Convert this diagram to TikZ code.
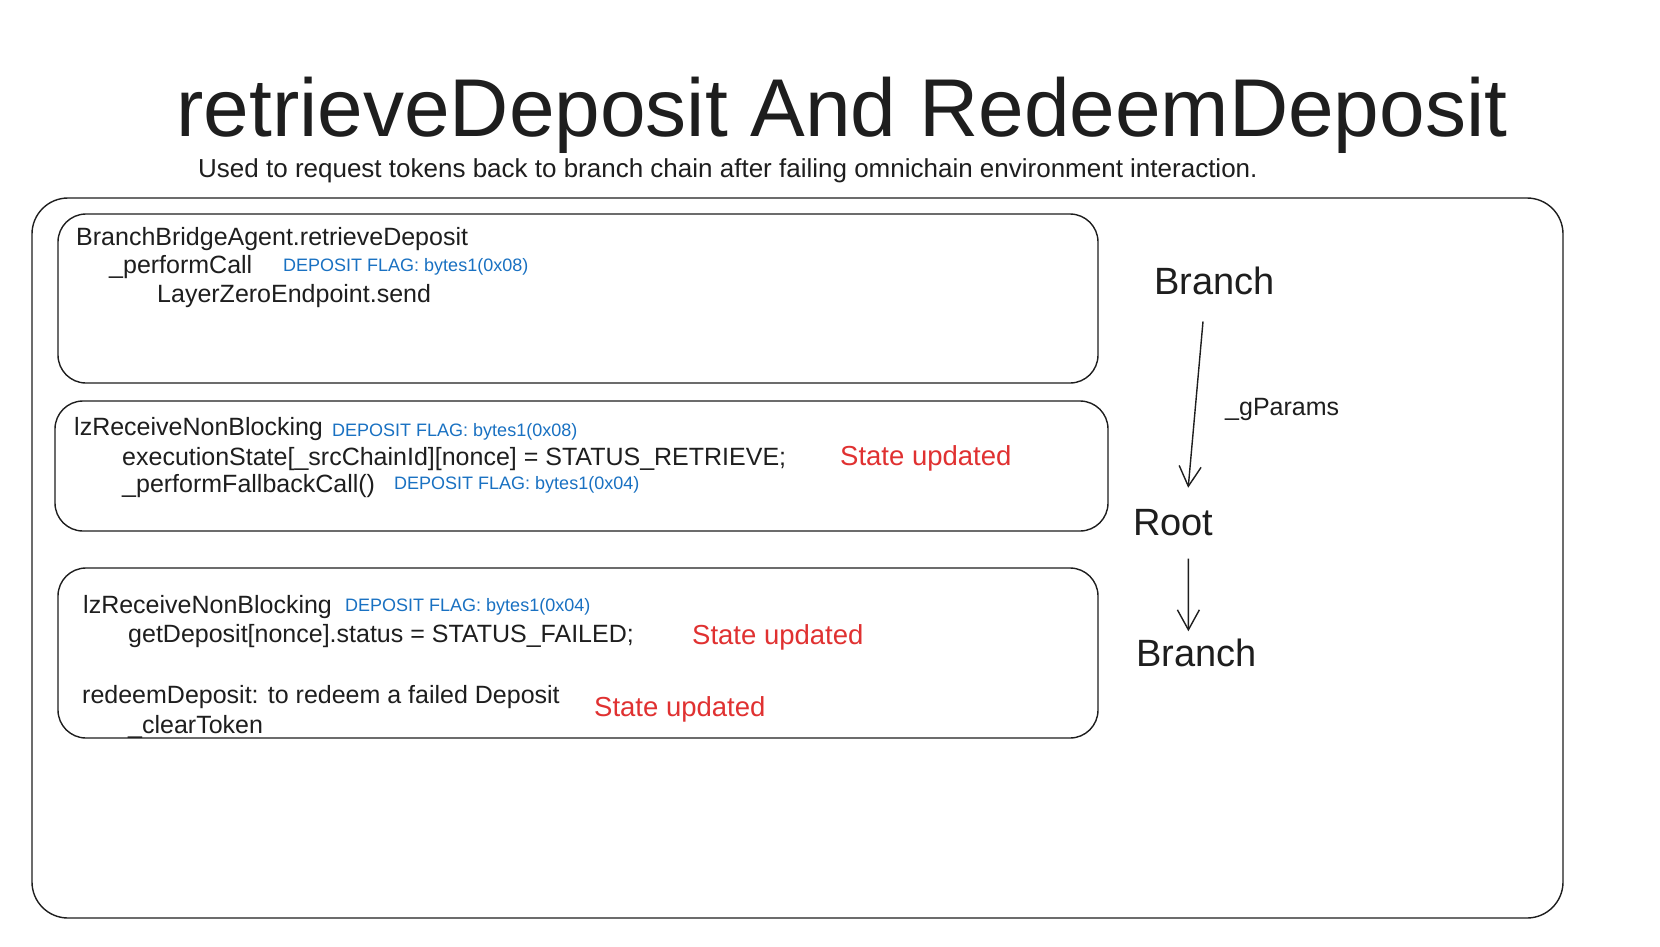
\documentclass[tikz,border=0pt]{standalone}
\usepackage{fontspec}
\setmainfont{Liberation Sans}
\usepackage{tikz}
\usetikzlibrary{arrows.meta}
\definecolor{ink}{HTML}{1E1E1E}
\definecolor{flagblue}{HTML}{1971C2}
\definecolor{statered}{HTML}{E03131}

\begin{document}
\begin{tikzpicture}[x=1pt,y=-1pt,
    txt/.style={anchor=base west,inner sep=0pt,text=ink,font=\fontsize{25}{30}\selectfont},
    flag/.style={txt,text=flagblue,font=\fontsize{18}{22}\selectfont},
    upd/.style={txt,text=statered,font=\fontsize{27.5}{33}\selectfont},
    chainlbl/.style={txt,font=\fontsize{38}{46}\selectfont},
    panel/.style={draw=ink,line width=1.4pt,rounded corners=28pt},
    arr/.style={draw=ink,line width=1.4pt,-{Straight Barb[length=20pt,width=22pt]}}]
    \fill[white] (0,0) rectangle (1660,946);
    \useasboundingbox (0,0) rectangle (1660,946);
    \node[txt,anchor=base,font=\fontsize{82}{98}\selectfont] (title) at (842,136) {retrieveDeposit And RedeemDeposit};
    \node[txt,font=\fontsize{26}{31}\selectfont] (sub) at (198,177) {Used to request tokens back to branch chain after failing omnichain environment interaction.};
    \draw[panel,rounded corners=36pt] (32,198) rectangle (1563,918);
    \draw[panel] (58,214) rectangle (1098,383);
    \draw[panel] (55,401) rectangle (1108,531);
    \draw[panel] (58,568) rectangle (1098,738);
    \node[txt] (retrieve) at (76,245) {BranchBridgeAgent.retrieveDeposit};
    \node[txt] (perform) at (109,273) {\_performCall};
    \node[flag] (flagA) at (283,271) {DEPOSIT FLAG: bytes1(0x08)};
    \node[txt] (send) at (157,302) {LayerZeroEndpoint.send};
    \node[txt] (lzA) at (74,435) {lzReceiveNonBlocking};
    \node[flag] (flagB) at (332,436) {DEPOSIT FLAG: bytes1(0x08)};
    \node[txt] (exec) at (122,465) {executionState[\_srcChainId][nonce] = STATUS\_RETRIEVE;};
    \node[upd] (updA) at (840,465) {State updated};
    \node[txt] (fallback) at (122,492) {\_performFallbackCall()};
    \node[flag] (flagC) at (394,489) {DEPOSIT FLAG: bytes1(0x04)};
    \node[txt] (lzB) at (83,613) {lzReceiveNonBlocking};
    \node[flag] (flagD) at (345,611) {DEPOSIT FLAG: bytes1(0x04)};
    \node[txt] (failed) at (128,642) {getDeposit[nonce].status = STATUS\_FAILED;};
    \node[upd] (updB) at (692,644) {State updated};
    \node[txt] (redeem) at (82,703) {redeemDeposit: to redeem a failed Deposit};
    \node[upd] (updC) at (594,716) {State updated};
    \node[txt] (clear) at (128,733) {\_clearToken};
    \node[chainlbl] (btop) at (1154,294) {Branch};
    \node[chainlbl] (root) at (1133,535) {Root};
    \node[chainlbl] (bbot) at (1136,666) {Branch};
    \node[txt] (gparams) at (1225,415) {\_gParams};
    \draw[arr,shorten <=27pt,shorten >=21pt] ([xshift=-9pt]btop.south) -- ([xshift=13pt]root.north);
    \draw[arr,shorten <=23pt,shorten >=7pt] ([xshift=15pt]root.south) -- ([xshift=-8pt]bbot.north);
\end{tikzpicture}
\end{document}
